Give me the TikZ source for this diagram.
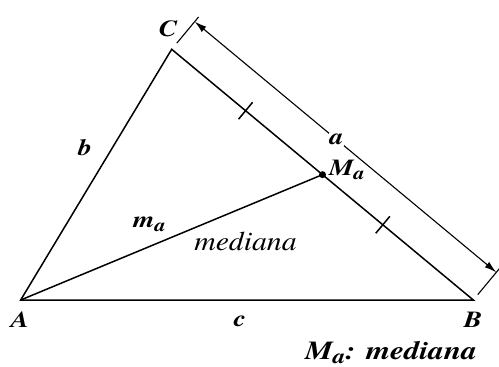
\documentclass[tikz,border=0pt]{standalone}
\usepackage{fontspec}
\usepackage{graphicx}
\setmainfont{texgyretermes}[
  Extension=.otf,
  UprightFont=*-regular,
  BoldFont=*-bold,
  ItalicFont=*-italic,
  BoldItalicFont=*-bolditalic]
\usetikzlibrary{calc,arrows.meta}
\newcommand{\wide}[1]{\scalebox{1.2}[1]{#1}}
\newcommand{\lowa}[1]{\raisebox{-0.4ex}{\scalebox{0.8}{#1}}}
\begin{document}
\begin{tikzpicture}[x=1pt, y=-1pt,
    every node/.style={font=\bfseries\itshape, inner sep=1pt},
    side/.style={line width=1.5pt},
    extline/.style={line width=1.1pt},
    vlabel/.style={font=\fontsize{23}{24}\selectfont\bfseries\itshape},
    mlabel/.style={font=\fontsize{23}{24}\selectfont\bfseries\itshape},
    >={Latex[length=12pt,width=7pt]},
]
\useasboundingbox (0,0) rectangle (499,367);
% vertices and points on side a
\coordinate (A) at (20.7,300);
\coordinate (B) at (473.3,300);
\coordinate (C) at (171.7,49.3);
\coordinate (Ma) at ($(C)!0.5!(B)$);
\coordinate (t1) at ($(C)!0.245!(B)$);
\coordinate (t2) at ($(C)!0.7!(B)$);
% extension and dimension points
\coordinate (C1) at ($(C)!8pt!90:(B)$);
\coordinate (C2) at ($(C)!42pt!90:(B)$);
\coordinate (B1) at ($(B)!7pt!-90:(C)$);
\coordinate (B2) at ($(B)!42pt!-90:(C)$);
\coordinate (Cd) at ($(C)!36pt!90:(B)$);
\coordinate (Bd) at ($(B)!36pt!-90:(C)$);
% triangle and median
\draw[side] (A) -- (B) -- (C) -- cycle;
\draw[side] (A) -- (Ma);
\fill (Ma) circle (3.5);
\foreach \t in {t1,t2}
  \draw[side] ($(\t)!11pt!90:(B)$) -- ($(\t)!11pt!-90:(B)$);
% length of a
\draw[extline] (C1) -- (C2);
\draw[extline] (B1) -- (B2);
\draw[extline, <->] (Cd) -- node[pos=0.47, fill=white, vlabel] (la) {\wide{a}} (Bd);
% labels
\node[vlabel] (lC) at (168,29) {\wide{C}};
\node[vlabel] (lA) at (20,320) {\wide{A}};
\node[vlabel] (lB) at (473,320) {\wide{B}};
\node[vlabel] (lc) at (240,321) {\wide{c}};
\node[vlabel] (lb) at (85,148) {\wide{b}};
\node[mlabel, anchor=base west] (lMa) at (328,175) {\wide{M\lowa{a}}};
\node[mlabel, anchor=base west] (lma) at (132,227) {\wide{m\lowa{a}}};
\node[font=\fontsize{27}{28}\selectfont\mdseries\itshape, anchor=base] (med) at (245.5,250) {\scalebox{1.1}[1]{mediana}};
\node[font=\fontsize{26}{27}\selectfont\bfseries\itshape, anchor=base] (leg) at (391,359) {\wide{M\lowa{a}: mediana}};
\end{tikzpicture}
\end{document}
